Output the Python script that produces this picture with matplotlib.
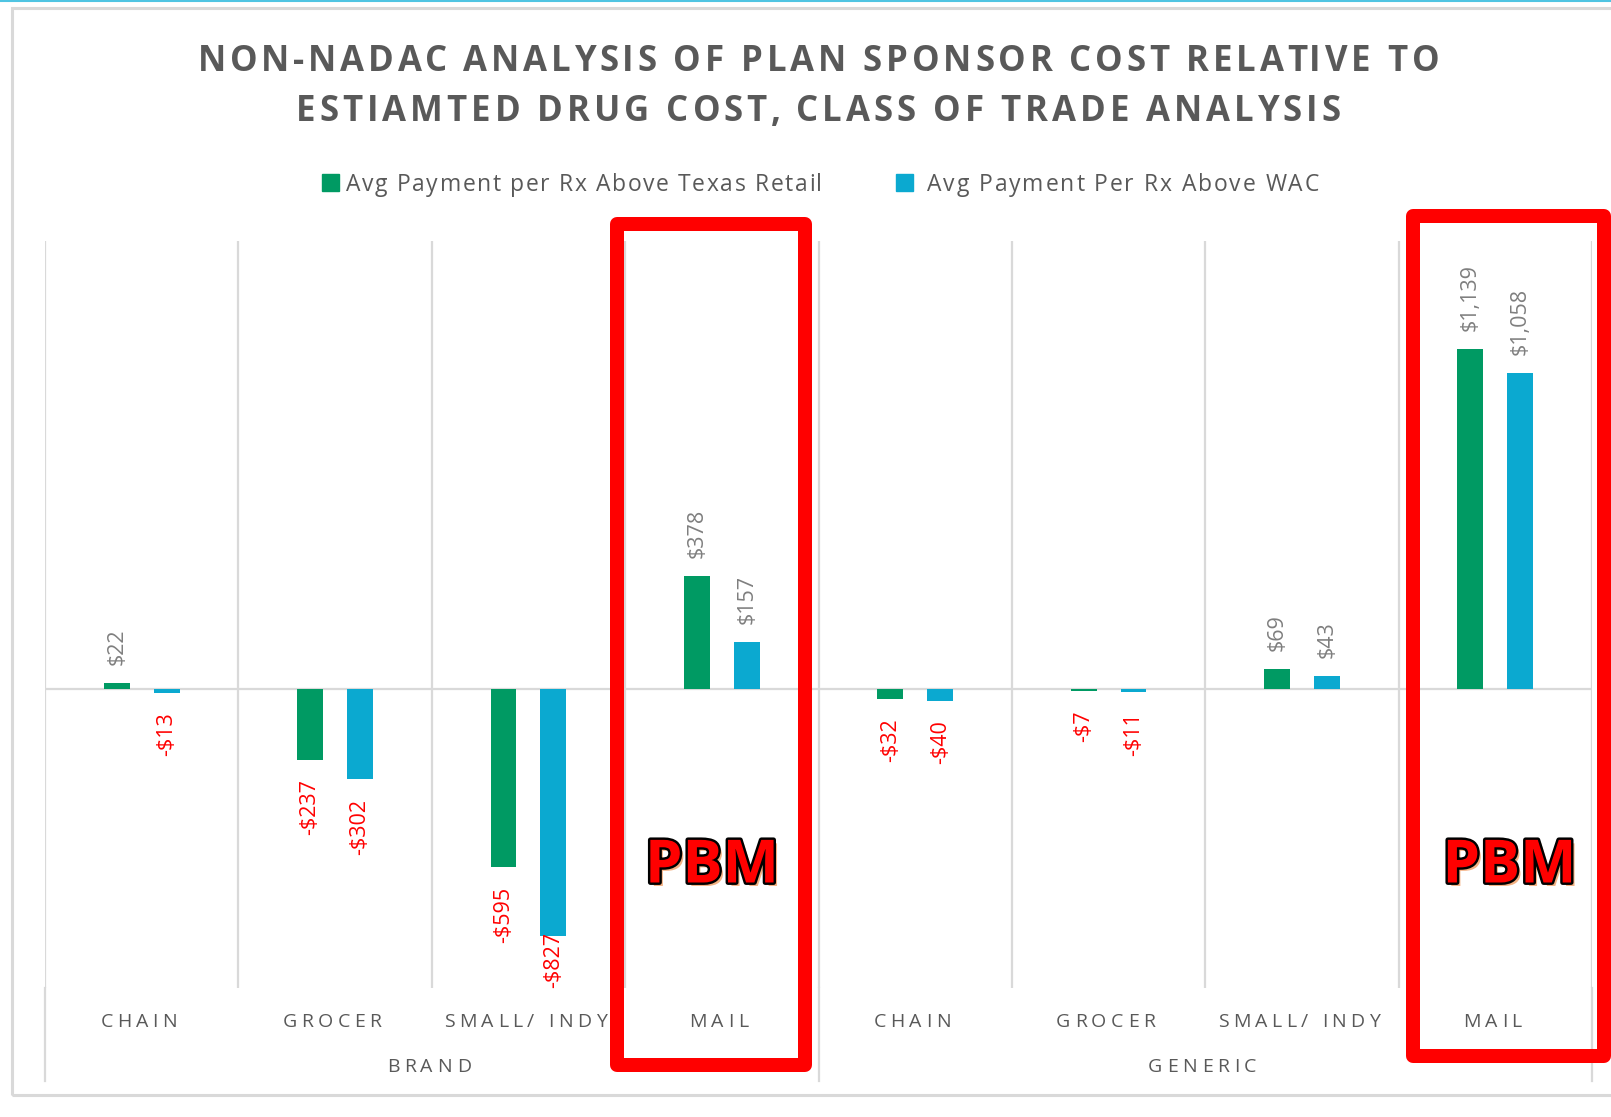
import numpy as np
import matplotlib
matplotlib.use("Agg")
import matplotlib.pyplot as plt
import matplotlib.patheffects as pe
from matplotlib.font_manager import FontProperties
from matplotlib.patches import Rectangle
from matplotlib.lines import Line2D
from matplotlib.transforms import blended_transform_factory

# data
categories = ["CHAIN", "GROCER", "SMALL/ INDY", "MAIL"] * 2
groups = ["BRAND", "GENERIC"]
series_names = ["Avg Payment per Rx Above Texas Retail", "Avg Payment Per Rx Above WAC"]
above_texas_retail = [22, -237, -595, 378, -32, -7, 69, 1139]
above_wac = [-13, -302, -827, 157, -40, -11, 43, 1058]
title_lines = ["NON-NADAC ANALYSIS OF PLAN SPONSOR COST RELATIVE TO",
               "ESTIAMTED DRUG COST, CLASS OF TRADE ANALYSIS"]

GREEN = "#009A63"
BLUE = "#0BA9D0"
TXT = "#595959"
LBL = "#7f7f7f"
GRID = "#d9d9d9"
RED = "#ff0000"
FONT = "Open Sans"

W, H = 1611, 1117
plt.rcParams["font.family"] = [FONT, "DejaVu Sans"]
fig = plt.figure(figsize=(W / 100, H / 100), dpi=100)
renderer = fig.canvas.get_renderer()


def fx(x):
    return x / W


def fy(y):
    return 1 - y / H


def adv(s, fp):
    # pen advance of s, measured with a trailing bar glyph
    bar = renderer.get_text_width_height_descent("|", fp, ismath=False)[0]
    return renderer.get_text_width_height_descent(s + "|", fp, ismath=False)[0] - bar


def spaced(x, y, s, size, weight="normal", color=TXT, width=None, sp=0.0):
    """letter-spaced text centred on x with baseline at y (pixels from top)"""
    fp = FontProperties(family=FONT, size=size, weight=weight)
    natural = adv(s, fp)
    if width is not None:
        sp = (width - natural) / (len(s) - 1)
    x0 = x - (natural + sp * (len(s) - 1)) / 2
    for i, ch in enumerate(s):
        if ch == " ":
            continue
        fig.text(fx(x0 + adv(s[:i], fp) + i * sp), fy(y), ch, fontproperties=fp,
                 color=color, ha="left", va="baseline")


# plot area
L, R, T, B = 45, 1592, 241, 988
ax = fig.add_axes([fx(L), fy(B), (R - L) / W, (B - T) / H])
ax.set_xlim(0, 8)
ax.set_ylim(-1000, 1500)
ax.axis("off")

x = np.arange(len(categories)) + 0.5
off, bw = 0.129, 0.134
ax.bar(x - off, above_texas_retail, bw, color=GREEN, zorder=3)
ax.bar(x + off, above_wac, bw, color=BLUE, zorder=3)

ax.axhline(0, color=GRID, lw=1.6, zorder=2)
for k in range(0, 9):
    ax.axvline(k, color=GRID, lw=1.6, zorder=1)
trans = blended_transform_factory(ax.transData, ax.transAxes)
ext = -(1081 - B) / (B - T)
for k in (0, 4, 8):
    ax.plot([k, k], [ext, 0], color=GRID, lw=1.6, transform=trans, clip_on=False)


def money(v):
    return f"${v:,}" if v >= 0 else f"-${abs(v):,}"


fig.canvas.draw()
axbox = ax.get_window_extent(renderer)
for xs, vals in ((x - off, above_texas_retail), (x + off, above_wac)):
    for xi, v in zip(xs, vals):
        pos = v >= 0
        t = ax.annotate(money(v), (xi, v), xytext=(0, 13 if pos else -14),
                        textcoords="offset points", rotation=90, ha="center",
                        va="bottom" if pos else "top", fontsize=15.5,
                        color=LBL if pos else RED, zorder=4)
        bb = t.get_window_extent(renderer)
        if bb.y0 < axbox.y0:
            t.remove()
            ax.text(xi, -1000, money(v), rotation=90, ha="center", va="bottom",
                    fontsize=15.5, color=RED, zorder=4)

# category and group labels
for xi, c in zip(x, categories):
    cx = L + xi / 8 * (R - L) - 3
    spaced(cx, 1027, c, 14, sp=4.4)
for gi, g in enumerate(groups):
    gx = L + (gi * 4 + 2) / 8 * (R - L) - 3
    spaced(gx, 1072, g, 14, sp=4.6)

# title
spaced(818, 71, title_lines[0], 25, weight="bold", width=1241)
spaced(818, 121, title_lines[1], 25, weight="bold", width=1045)

# legend
for sx, (t0, t1), col, name in ((322, (346, 822), GREEN, series_names[0]),
                                (896, (927, 1319), BLUE, series_names[1])):
    fig.patches.append(Rectangle((fx(sx), fy(191)), 17 / W, 17 / H, color=col,
                                 transform=fig.transFigure, figure=fig))
    spaced((t0 + t1) / 2, 191, name, 16.5, width=t1 - t0)

# outer frame
fig.patches.append(Rectangle((fx(12), fy(1095)), (W + 20) / W, (1095 - 8) / H,
                             fill=False, edgecolor=GRID, lw=2.2,
                             transform=fig.transFigure, figure=fig))
fig.lines.append(Line2D([0, 1], [fy(0.8), fy(0.8)], color="#4FC4E2", lw=1.5,
                        transform=fig.transFigure, figure=fig))

# PBM callouts
for (x0, y0, x1, y1), (px, py) in (((616.5, 224, 804.5, 1065), (712, 867)),
                                   ((1413, 216, 1603.5, 1056), (1509.5, 867))):
    fig.patches.append(Rectangle((fx(x0), fy(y1)), (x1 - x0) / W, (y1 - y0) / H,
                                 fill=False, edgecolor=RED, lw=14 * 0.72,
                                 joinstyle="round", zorder=10,
                                 transform=fig.transFigure, figure=fig))
    fig.text(fx(px), fy(py), "PBM", fontsize=43, fontweight="bold", color=RED,
             ha="center", va="center", zorder=11,
             path_effects=[pe.SimplePatchShadow(offset=(2.5, -2.5), shadow_rgbFace="#F4B183", alpha=1),
                           pe.withStroke(linewidth=3.5, foreground="black")])

fig.savefig("out.png", dpi=100)
